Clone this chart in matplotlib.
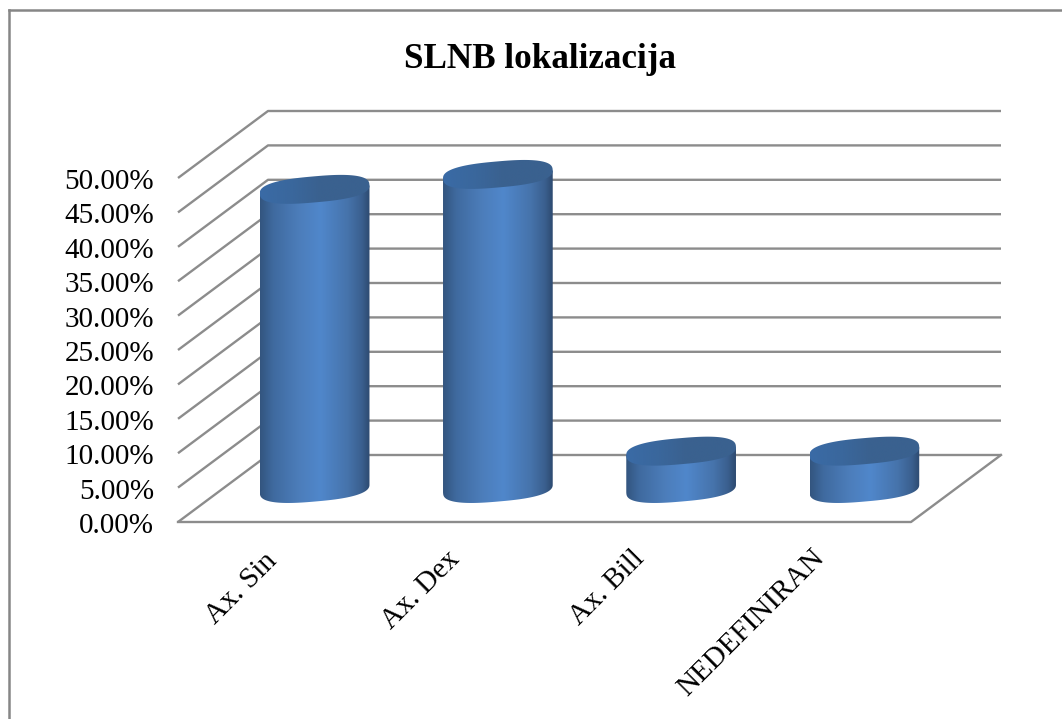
import numpy as np
import matplotlib
matplotlib.use("Agg")
import matplotlib.pyplot as plt
from matplotlib.colors import LinearSegmentedColormap
from matplotlib.patches import Polygon

categories = ["Ax. Sin", "Ax. Dex", "Ax. Bill", "NEDEFINIRAN"]
values = [43.48, 45.65, 5.43, 5.43]
ticks = [0, 5, 10, 15, 20, 25, 30, 35, 40, 45, 50]
tick_labels = ["0.00%", "5.00%", "10.00%", "15.00%", "20.00%", "25.00%",
               "30.00%", "35.00%", "40.00%", "45.00%", "50.00%"]

W, H = 1062, 719
plt.rcParams["font.family"] = "Liberation Serif"

fig = plt.figure(figsize=(W / 100, H / 100), dpi=100, facecolor="white")

# the front plane of the fake 3d box, in pixels
left, right, base, top = 178, 911, 522, 178
depth_px_x, depth_px_y = 90, 67
px_x = (right - left) / 4
px_y = (base - top) / 50
depth_x = depth_px_x / px_x
depth_y = depth_px_y / px_y

# axes also covers the depth of the box so the bars are not cut at the front plane
ax = fig.add_axes([left / W, 1 - base / H, (right + depth_px_x - left) / W, (base - top + depth_px_y) / H])
ax.axis("off")

grid = "#8c8c8c"
for t, lab in zip(ticks, tick_labels):
    ax.plot([0, depth_x, 4 + depth_x], [t, t + depth_y, t + depth_y],
            color=grid, lw=1.7, clip_on=False, zorder=1, solid_capstyle="butt")
    ax.annotate(lab, (0, t), xytext=(-24, -4), textcoords="offset pixels",
                ha="right", va="center", fontsize=21, color="black", annotation_clip=False)
ax.plot([0, 4, 4 + depth_x], [0, 0, depth_y], color=grid, lw=1.7, clip_on=False, zorder=1)

cmap_body = LinearSegmentedColormap.from_list("body", [
    (0.0, "#33557f"), (0.12, "#3f6a9f"), (0.35, "#4c7dba"), (0.55, "#5087cb"),
    (0.8, "#4673ab"), (0.93, "#3a5f8e"), (1.0, "#2d4a70")])
cmap_top = LinearSegmentedColormap.from_list("top", [
    (0.0, "#3a6ba6"), (0.3, "#3a679c"), (0.55, "#3a618f"), (1.0, "#3a618f")])
gradient = np.linspace(0, 1, 256).reshape(1, -1)

angle = np.linspace(0, 2 * np.pi, 181)


def ellipse(cx, cy):
    # tilted rounded ellipse, offsets worked out in pixels then put back to data units
    a = 55.0
    b = 13.0
    n = 2.6
    tilt = np.radians(5)
    c = np.sign(np.cos(angle)) * np.abs(np.cos(angle)) ** (2 / n)
    s = np.sign(np.sin(angle)) * np.abs(np.sin(angle)) ** (2 / n)
    ex = a * c * np.cos(tilt) - b * s * np.sin(tilt)
    ey = a * c * np.sin(tilt) + b * s * np.cos(tilt)
    return cx + ex / px_x, cy + ey / px_y


for i, v in enumerate(values):
    cx = i + 0.5 + depth_x / 2
    cy0 = depth_y / 2
    cy1 = v + depth_y / 2
    bx, by = ellipse(cx, cy0)
    tx, ty = ellipse(cx, cy1)

    # silhouette of the cylinder: lower edge of the bottom ellipse, then up to the top one
    lo = np.argmin(bx)
    hi = np.argmax(bx)
    chord = np.interp(bx, [bx[lo], bx[hi]], [by[lo], by[hi]])
    lower = np.column_stack([bx, by])[by < chord]
    lower = lower[np.argsort(lower[:, 0])]
    pts = np.vstack([[bx[lo], by[lo]], lower, [bx[hi], by[hi]], [tx[hi], ty[hi]], [tx[lo], ty[lo]]])
    body = Polygon(pts, closed=True, fc="none", ec="none")
    ax.add_patch(body)
    im = ax.imshow(gradient, extent=[bx[lo], bx[hi], cy0 - 3, cy1 + 3], cmap=cmap_body,
                   aspect="auto", zorder=3, interpolation="bilinear")
    im.set_clip_path(body)
    cap = Polygon(np.column_stack([tx, ty]), closed=True, fc="none", ec="none")
    ax.add_patch(cap)
    im = ax.imshow(gradient, extent=[tx[lo], tx[hi], cy1 - 3, cy1 + 3], cmap=cmap_top,
                   aspect="auto", zorder=4, interpolation="bilinear")
    im.set_clip_path(cap)

ax.set_xlim(0, 4 + depth_x)
ax.set_ylim(0, 50 + depth_y)

label_x = [264, 447, 631, 811]
label_y = [548, 546, 545, 545]
for x, y, name in zip(label_x, label_y, categories):
    fig.text(x / W, 1 - y / H, name, rotation=45, ha="right", va="top",
             rotation_mode="anchor", fontsize=21, color="black")

fig.text(540 / W, 1 - 59 / H, "SLNB lokalizacija", ha="center", va="center",
         fontsize=25.3, fontweight="bold", color="black")

# chart border, right and bottom fall outside the picture
border = "#868686"
fig.add_artist(plt.Line2D([9 / W, 9 / W], [0, 1 - 10 / H], color=border, lw=1.8))
fig.add_artist(plt.Line2D([9 / W, 1], [1 - 10 / H, 1 - 10 / H], color=border, lw=1.8))

fig.savefig("out.png", dpi=100)
